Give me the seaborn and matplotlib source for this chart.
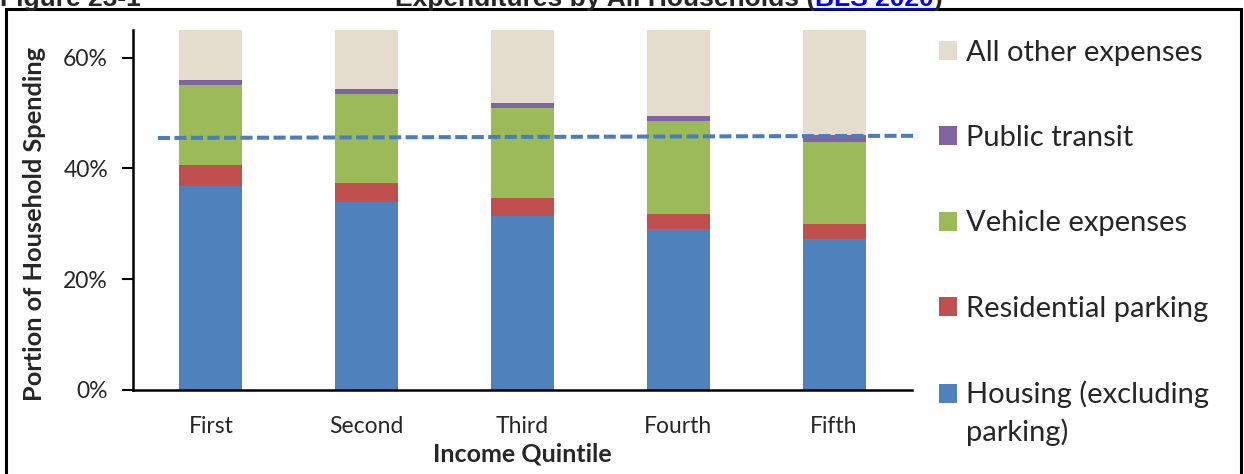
import matplotlib
matplotlib.use("Agg")
import matplotlib.pyplot as plt
from matplotlib.patches import Patch, Rectangle
from matplotlib.lines import Line2D
from matplotlib.ticker import PercentFormatter
import pandas as pd
import seaborn as sns

# Data (share of household spending, %)
quintiles = ["First", "Second", "Third", "Fourth", "Fifth"]
housing = [36.9, 34.0, 31.4, 29.0, 27.2]
res_parking = [3.8, 3.3, 3.2, 2.7, 2.7]
vehicle = [14.3, 16.2, 16.4, 16.9, 14.8]
transit = [0.9, 0.9, 0.9, 0.9, 1.4]
other = [44.1, 45.6, 48.1, 50.5, 53.9]
trend_ends = [45.5, 45.9]

series_names = ["Housing (excluding parking)", "Residential parking",
                "Vehicle expenses", "Public transit", "All other expenses"]
colors = ["#4F81BD", "#C0504D", "#9BBB59", "#8064A2", "#E4DCCD"]

df = pd.DataFrame({"quintile": quintiles, "housing": housing,
                   "parking": res_parking, "vehicle": vehicle,
                   "transit": transit, "other": other})
cols = ["housing", "parking", "vehicle", "transit", "other"]
cum = df[cols].cumsum(axis=1)

sns.set_style("white")
plt.rcParams["font.family"] = ["Lato", "DejaVu Sans"]

W, H = 1244, 474
fig = plt.figure(figsize=(W / 100, H / 100), dpi=100)
ax = fig.add_axes([133 / W, 1 - 390 / H, (912 - 133) / W, 360 / H])

# stacked bars: draw tallest cumulative first
for col, color in reversed(list(zip(cols, colors))):
    sns.barplot(x=df["quintile"], y=cum[col], color=color, width=0.405,
                saturation=1, ax=ax, linewidth=0)

# dashed trend line
ax.plot([-0.34, 4.53], trend_ends, ls=(0, (3, 1.1)), lw=2.9,
        color="#4A7EBB", clip_on=False, zorder=5)

ax.set_xlim(-0.5, 4.5)
ax.set_ylim(0, 65)
ax.set_yticks([0, 20, 40, 60])
ax.yaxis.set_major_formatter(PercentFormatter(decimals=0))
ax.tick_params(axis="y", direction="out", length=8, width=1.5, pad=10,
               labelsize=16.5, left=True, color="black")
ax.tick_params(axis="x", length=0, pad=19, labelsize=16.5)
for s in ["top", "right"]:
    ax.spines[s].set_visible(False)
for s in ["left", "bottom"]:
    ax.spines[s].set_color("black")
    ax.spines[s].set_linewidth(1.8)
ax.set_xlabel("Income Quintile", fontsize=18, fontweight="bold", labelpad=4)
ax.set_ylabel("Portion of Household Spending", fontsize=18.3,
              fontweight="bold", labelpad=12)
ax.yaxis.label.set_y(0.462)

# legend (reversed order)
handles = [Patch(facecolor=c, edgecolor="none") for c in reversed(colors)]
labels = list(reversed(series_names))
labels[-1] = "Housing (excluding"
leg = fig.legend(handles, labels, loc="upper left",
                 bbox_to_anchor=(939 / W, 1 - 40 / H), frameon=False,
                 fontsize=21, handlelength=0.62, handleheight=0.62,
                 handletextpad=0.3, labelspacing=2.03, borderpad=0,
                 borderaxespad=0)
fig.canvas.draw()
bb = leg.get_texts()[-1].get_window_extent()
fig.text(bb.x0 / W, (bb.y0 - 38) / H, "parking)", fontsize=21,
         va="bottom", ha="left")

# title line, cut off at the top edge as in the source page
tkw = dict(fontsize=19, fontweight="bold", family="Liberation Sans",
           va="baseline")
base = 1 - 6 / H
fig.text(0.0, base, "Figure 23-1", **tkw)
t1 = fig.text(395 / W, base, "Expenditures by All Households (", **tkw)
fig.canvas.draw()
x1 = t1.get_window_extent().x1 / W
t2 = fig.text(x1, base, "BLS 2020", color="#0000FF", **tkw)
fig.canvas.draw()
e2 = t2.get_window_extent()
fig.add_artist(Line2D([e2.x0 / W, e2.x1 / W], [base - 2.5 / H] * 2,
                      color="#0000FF", lw=1.5, transform=fig.transFigure))
fig.text(e2.x1 / W, base, ")", **tkw)

# outer frame
fig.patches.append(Rectangle((6 / W, -0.1), 1235 / W, 1.1 - 9 / H,
                             transform=fig.transFigure, fill=False,
                             edgecolor="black", linewidth=2.2))

fig.savefig("out.png", dpi=100)
